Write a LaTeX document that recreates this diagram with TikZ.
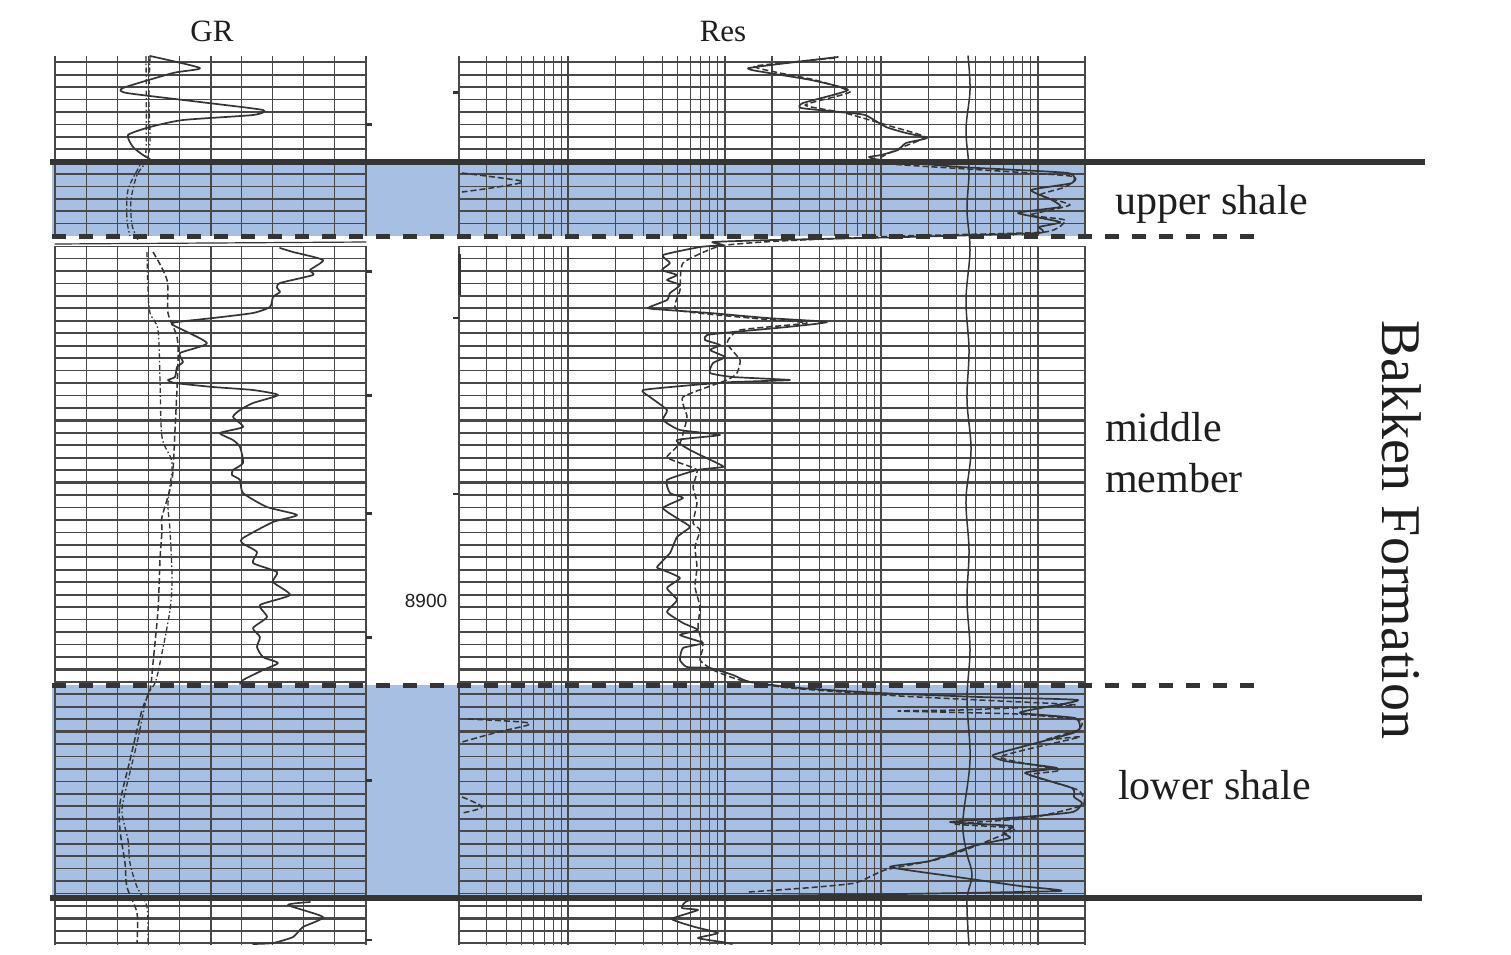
\documentclass[tikz,border=0pt]{standalone}
\usepackage{fontspec}
\setmainfont{Liberation Serif}
\newfontfamily\logsans{Liberation Sans}
\definecolor{shale}{RGB}{166,191,226}
\definecolor{ink}{RGB}{52,52,52}
\definecolor{gridc}{RGB}{72,72,72}
\definecolor{txt}{RGB}{30,30,30}
\begin{document}
\begin{tikzpicture}[x=1pt,y=-1pt,
  gridline/.style={gridc,line width=1.05pt},
  gridheavy/.style={gridc,line width=2.0pt},
  hline/.style={gridc,line width=1.7pt},
  hheavy/.style={gridc,line width=2.6pt},
  logcurve/.style={ink,line width=1.7pt,line join=round,line cap=round},
  logdash/.style={ink,line width=1.5pt,line join=round,dash pattern=on 6pt off 3pt},
  dotdash/.style={ink,line width=1.3pt,dash pattern=on 5pt off 2.5pt on 1.5pt off 2.5pt},
  boundary/.style={ink,line width=6pt},
  memberline/.style={ink,line width=5pt,dash pattern=on 14pt off 13pt},
  tickmark/.style={ink,line width=2.6pt},
  lbl/.style={inner sep=0pt,text=txt,font=\fontsize{42}{50}\selectfont}]

\useasboundingbox (0,0) rectangle (1511,954);
\fill[white] (0,0) rectangle (1511,954);

% shale bands
\fill[shale] (52,164) rectangle (1085,236);
\fill[shale] (52,685) rectangle (1085,896);

% ---------- GR grid ----------
\foreach \i in {0,...,10}{
  \pgfmathsetmacro\gx{55+31.1*\i}
  \draw[gridline] (\gx,56) -- (\gx,236);
  \draw[gridline] (\gx,246) -- (\gx,945);
}
\foreach \gx in {55,210.5,366}{
  \draw[gridheavy] (\gx,56) -- (\gx,236);
  \draw[gridheavy] (\gx,246) -- (\gx,945);
}
% ---------- Res grid (log, 0.2 - 2000) ----------
\foreach \d in {0,...,3}{
  \foreach \m in {2,...,10}{
    \pgfmathsetmacro\rx{459+156.5*(ln(\m)/2.302585+\d-0.30103)}
    \ifnum\m=10 \def\lw{2.0pt}\else\def\lw{1.05pt}\fi
    \draw[gridc,line width=\lw] (\rx,56) -- (\rx,236);
    \draw[gridc,line width=\lw] (\rx,246) -- (\rx,945);
  }
}
\draw[gridc,line width=2pt] (459,56) -- (459,236) (459,246) -- (459,945);
\draw[gridc,line width=1.6pt] (1085,56) -- (1085,236) (1085,246) -- (1085,945);

% horizontal lines, upper segment
\foreach \k in {0,...,13}{
  \pgfmathsetmacro\gy{62.3+12.41*\k}
  \draw[hline] (55,\gy) -- (366,\gy);
  \draw[hline] (459,\gy) -- (1085,\gy);
}
% horizontal lines, lower segment
\draw[hline] (55,246.5) -- (366,246.5);
\draw[hline] (459,246.5) -- (1085,246.5);
\foreach \k in {0,...,55}{
  \pgfmathsetmacro\gy{258.5+12.45*\k}
  \draw[hline] (55,\gy) -- (366,\gy);
  \draw[hline] (459,\gy) -- (1085,\gy);
}
\foreach \k in {3,8,...,53}{
  \pgfmathsetmacro\gy{258.5+12.45*\k}
  \draw[hheavy] (55,\gy) -- (366,\gy);
  \draw[hheavy] (459,\gy) -- (1085,\gy);
}

% depth ticks
\foreach \ty in {124.7,271.6,395.7,513.4,637.5,780.3,940}{
  \draw[tickmark] (366,\ty) -- (372,\ty);
}
\foreach \ty in {92.7,318,494}{
  \draw[tickmark] (453,\ty) -- (459,\ty);
}
\draw[ink,line width=3pt] (459,254) -- (459,295);

% ---------- GR curves ----------
\draw[logcurve] plot[smooth,tension=0.35] coordinates {
 (150,56) (200,68) (173,73) (123,88) (127,93) (200,102) (263,110) (253,115)
 (183,120) (150,127) (128,135) (133,147) (143,155) (150,159)};
\draw[logcurve,line width=1.2pt] (55,244) -- (366,242);
\draw[logcurve] plot[smooth,tension=0.35] coordinates {
 (280,248) (293,252) (323,260) (310,270) (313,275) (280,283) (277,288) (280,292)
 (273,297) (270,307) (253,313) (213,318) (177,322) (173,325) (207,343) (180,353)
 (183,362) (177,367) (175,377) (168,380) (175,383) (213,387) (253,390) (278,395)
 (253,403) (240,410) (233,417) (243,427) (220,433) (233,440) (240,447) (243,463)
 (233,470) (232,475) (240,480) (243,493) (267,507) (297,515) (273,522) (243,538)
 (242,543) (257,552) (253,563) (277,572) (273,582) (290,595) (260,605) (267,617)
 (253,628) (260,637) (257,647) (263,657) (278,663) (263,670) (243,680) (240,684)};
\draw[logcurve] plot[smooth,tension=0.35] coordinates {
 (310,902) (288,905) (323,917) (303,927) (293,937) (273,943) (253,944)};
% GR dashed (dash-dot) curves
\draw[dotdash] plot[smooth] coordinates {
 (150,56) (149,100) (150,140) (147,160) (137,175) (131,200) (132,225) (138,240)};
\draw[dotdash] plot[smooth] coordinates {
 (146,56) (146,150) (140,165) (128,190) (127,220) (130,236)};
\draw[dotdash] plot[smooth] coordinates {
 (147,252) (148,290) (150,313) (158,330) (160,380) (162,437) (172,463) (168,503)
 (170,530) (172,577) (170,610) (160,663) (155,683) (147,697) (137,743) (125,793)
 (122,813) (128,840) (130,863) (137,887) (147,907) (148,943)};
\draw[logdash] plot[smooth] coordinates {
 (153,252) (167,280) (168,313) (177,337) (178,363) (175,430) (172,480) (162,517)
 (162,530) (160,560) (158,610) (153,663) (150,690) (142,710) (130,760) (120,803)
 (120,830) (125,863) (127,887) (137,913) (137,943)};

% ---------- Res curves ----------
% wavy curve near 968
\draw[logcurve,line width=1.5pt] plot[smooth,tension=0.6] coordinates {
 (968,56) (970,90) (966,130) (969,170) (967,210) (970,250) (966,300) (969,350)
 (967,400) (971,450) (966,500) (969,550) (967,600) (970,650) (967,700) (970,760)
 (963,820) (966,850) (972,875) (967,900) (969,945)};
% main solid resistivity curve
\draw[logcurve] plot[smooth,tension=0.3] coordinates {
 (838,57) (749,68) (769,73) (811,80) (848,90) (803,103) (801,108) (840,112)
 (865,115) (886,127) (906,133) (927,138) (906,143) (898,150) (881,155) (869,157)
 (881,160) (960,167) (1068,173) (1072,183) (1031,190) (1052,200) (1060,207)
 (1018,213) (1060,222) (1039,227) (1039,233) (906,237) (773,240) (713,242)
 (723,245) (700,247) (663,255) (670,263) (662,270) (677,275) (667,280) (680,285)
 (670,293) (667,300) (648,308) (667,310) (710,313) (767,318) (827,322) (787,327)
 (733,332) (707,335) (705,340) (720,345) (710,350) (725,357) (713,363) (710,373)
 (733,377) (790,380) (733,382) (693,385) (643,390) (650,397) (667,410) (663,420)
 (680,430) (720,435) (677,440) (690,450) (717,463) (723,467) (697,470) (667,480)
 (670,493) (683,498) (663,508) (680,520) (690,527) (677,537) (670,553) (657,567)
 (663,570) (680,578) (667,588) (677,600) (667,612) (683,623) (698,630) (680,635)
 (703,643) (683,648) (680,660) (687,667) (710,668) (733,675) (750,682)
 (800,688) (880,693) (980,697) (1078,700) (1035,709) (1020,713) (1075,718)
 (1080,728) (1073,733) (1040,742) (993,755) (1005,761) (1057,768) (1025,773)
 (1072,788) (1074,797) (1082,803) (1073,812) (1023,817) (950,822) (1012,826)
 (1003,833) (1010,838) (973,846) (930,861) (890,867) (950,876) (1020,886)
 (1060,891) (900,894) (760,896) (690,900) (682,908) (698,910) (672,919)
 (695,927) (718,933) (698,938) (722,942) (732,944)};
% dashed resistivity curve
\draw[logdash] plot[smooth,tension=0.3] coordinates {
 (835,58) (755,66) (775,72) (815,80) (850,92) (805,105) (845,113) (890,126)
 (925,137) (900,148) (880,158) (890,164) (1070,176) (1065,187) (1040,195)
 (1070,205) (1030,215) (1065,220) (1045,232) (900,236) (780,241) (720,246)
 (683,263) (680,290) (677,310) (750,318) (807,323) (740,330) (727,343) (740,360)
 (737,373) (727,380) (683,397) (687,417) (680,443) (667,457) (680,463) (697,470)
 (693,487) (697,503) (693,523) (700,530) (695,547) (697,567) (695,587) (700,607)
 (698,627) (703,647) (700,660) (713,670) (740,680) (790,688) (900,696)
 (1000,701) (1075,705) (960,710) (898,711) (1017,714) (1080,720) (1078,730)
 (1045,740) (1080,737) (1000,757) (1060,770) (1030,775) (1078,790) (1083,805)
 (1030,818) (955,824) (1015,828) (1000,836) (965,850) (935,860) (885,870)
 (855,883) (805,888) (748,892)};
% wrap-around pieces at left of Res track
\draw[logdash] plot[smooth] coordinates {(462,173) (516,180) (520,183) (491,188) (462,192)};
\draw[logdash] plot[smooth] coordinates {(468,719) (522,722) (528,725) (498,732) (462,742)};
\draw[logdash] plot[smooth] coordinates {(462,797) (482,807) (462,813)};

% ---------- formation boundaries ----------
\draw[boundary] (50,161.5) -- (1425,161.5);
\draw[boundary] (50,897.5) -- (1422,897.5);
\draw[memberline] (52,236) -- (1255,236);
\draw[memberline] (52,685) -- (1255,685);

% ---------- labels ----------
\node[inner sep=0pt,text=txt,font=\fontsize{31}{36}\selectfont,anchor=base] (gr) at (212,41) {GR};
\node[inner sep=0pt,text=txt,font=\fontsize{31}{36}\selectfont,anchor=base] (res) at (723,41) {Res};
\node[lbl,anchor=base west] (upper) at (1115,214) {upper shale};
\node[lbl,anchor=base west] (middle) at (1105,441) {middle};
\node[lbl,anchor=base west] (member) at (1105,492) {member};
\node[lbl,anchor=base west] (lower) at (1118,799) {lower shale};
\node[inner sep=0pt,text=txt,font=\fontsize{56}{60}\selectfont,rotate=-90,anchor=base] (bakken) at (1382,530) {Bakken Formation};
\node[inner sep=0pt,text=txt,font=\logsans\fontsize{19}{22}\selectfont,anchor=base] (depth) at (426,607) {8900};
\end{tikzpicture}
\end{document}
